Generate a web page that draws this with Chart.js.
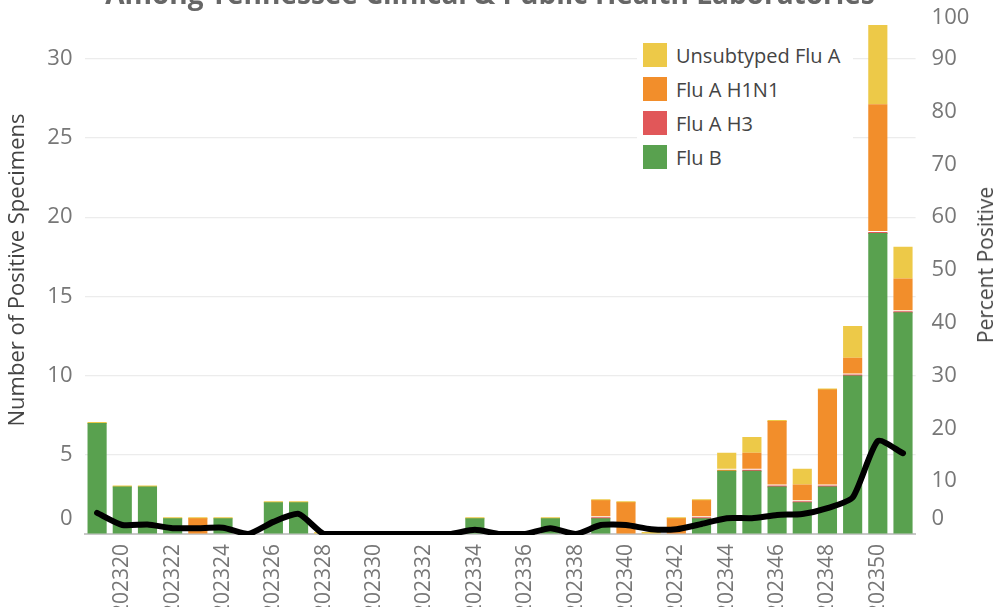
<!DOCTYPE html>
<html>
<head>
<meta charset="utf-8">
<title>Flu positives by week</title>
<script src="https://cdn.jsdelivr.net/npm/chart.js@4"></script>
<style>
  html, body { margin: 0; padding: 0; background: #fff; overflow: hidden; }
  #wrap { position: relative; width: 996px; height: 607px; overflow: hidden; font-family: 'Open Sans', sans-serif; }
  #fluChart { position: absolute; left: 0; top: 0; }
  #title { position: absolute; left: 490px; top: -21px; transform: translateX(-50%); white-space: nowrap;
           font-size: 28px; line-height: 28px; font-weight: 700; color: #666; }
  #rightTitle { position: absolute; left: 985px; top: 265px; transform: translate(-50%, -50%) rotate(-90deg);
                white-space: nowrap; font-size: 21px; line-height: 24px; color: #444; }
  #legend { position: absolute; left: 637px; top: 30px; width: 216px; padding: 8px 0 8px 6px; background: #fff; box-sizing: border-box; }
  #legend .item { display: flex; align-items: center; height: 34px; }
  #legend .sw { width: 24px; height: 24px; margin-right: 9px; flex: none; }
  #legend .lab { font-size: 20px; color: #444; white-space: nowrap; }
</style>
</head>
<body>
<div id="wrap">
  <canvas id="fluChart" width="996" height="607"></canvas>
  <div id="title">Among Tennessee Clinical &amp; Public Health Laboratories</div>
  <div id="rightTitle">Percent Positive</div>
  <div id="legend"></div>
</div>
<script>
// MMWR weeks shown on the x axis
var weeks = ['202319', '202320', '202321', '202322', '202323', '202324', '202325', '202326', '202327',
  '202328', '202329', '202330', '202331', '202332', '202333', '202334', '202335', '202336', '202337',
  '202338', '202339', '202340', '202341', '202342', '202343', '202344', '202345', '202346', '202347',
  '202348', '202349', '202350', '202351'];

// counts of positive specimens (null = not reported, 0 = reported as zero)
var fluB = [7, 3, 3, 1, null, 1, null, 2, 2, null, null, null, null, null, null, 1, null, null, 1,
  null, 1, null, null, null, 1, 4, 4, 3, 2, 3, 10, 19, 14];
var fluAH3 = [null, null, null, null, null, null, null, null, null, null, null, null, null, null, null, null, null, null, null,
  null, 0, null, null, null, 0, null, 0, 0, 0, 0, 0, 0, 0];
var fluAH1N1 = [null, null, null, null, 1, null, null, null, null, null, null, null, null, null, null, null, null, null, null,
  null, 1, 2, null, 1, 1, 0, 1, 4, 1, 6, 1, 8, 2];
var unsubtypedA = [0, 0, 0, 0, 0, 0, null, 0, 0, 0, null, null, null, null, null, 0, null, null, 0,
  null, 0, 0, 0, 0, 0, 1, 1, 0, 1, 0, 2, 5, 2];

// percent positive (right axis)
var percentPositive = [4, 1.7, 1.8, 1.1, 1.1, 1.2, 0, 2.3, 3.8, 0, 0, 0, 0, 0, 0, 0.8, 0, 0, 1.1,
  0, 1.7, 1.7, 0.9, 0.9, 1.9, 3.0, 3.0, 3.6, 3.8, 4.9, 6.9, 17.6, 15.3];

var countTicks = [0, 5, 10, 15, 20, 25, 30];
var percentTicks = [0, 10, 20, 30, 40, 50, 60, 70, 80, 90, 100];

var seriesNames = ['Flu B', 'Flu A H3', 'Flu A H1N1', 'Unsubtyped Flu A'];
var seriesColors = ['#59a14f', '#e15759', '#f28e2b', '#edc948'];
var seriesData = [fluB, fluAH3, fluAH1N1, unsubtypedA];

(function() {
  if (typeof Chart === 'undefined') return;

  Chart.defaults.font.family = "'Open Sans', sans-serif";
  Chart.defaults.color = '#777';

  // edge labels get nudged inside the plot, the way the original axis does it
  var nudgeEdgeLabels = {
    id: 'nudgeEdgeLabels',
    beforeDraw: function(chart) {
      ['y', 'y1'].forEach(function(id) {
        chart.scales[id].getLabelItems().forEach(function(it) {
          if (it._nudged) return;
          if (it.label === '0') it.options.translation[1] -= 15;
          if (it.label === '100') it.options.translation[1] += 12;
          it._nudged = true;
        });
      });
    }
  };

  var datasets = seriesData.map(function(d, i) {
    return {
      type: 'bar', label: seriesNames[i], data: d, yAxisID: 'y',
      backgroundColor: seriesColors[i], borderWidth: 0, minBarLength: 2,
      barPercentage: 0.76, categoryPercentage: 1, order: 1
    };
  });
  datasets.push({
    type: 'line', label: 'Percent Positive', data: percentPositive, yAxisID: 'y1',
    borderColor: '#000', borderWidth: 6, pointRadius: 0, tension: 0.2,
    borderCapStyle: 'round', borderJoinStyle: 'round', fill: false, order: 0,
    clip: { left: 8, right: 8, top: 8, bottom: 1 }
  });

  new Chart(document.getElementById('fluChart').getContext('2d'), {
    data: { labels: weeks, datasets: datasets },
    options: {
      responsive: false,
      animation: false,
      layout: { padding: { top: 6 } },
      plugins: { legend: { display: false }, tooltip: { enabled: false } },
      scales: {
        x: {
          stacked: true,
          grid: { display: false, drawTicks: false },
          border: { display: true, color: '#c8c8c8', width: 2, dash: [3, 3] },
          ticks: {
            autoSkip: false, maxRotation: 90, minRotation: 90, padding: 10,
            color: '#777', font: { size: 21 },
            callback: function(v, i) { return Number(weeks[i]) % 2 === 0 ? weeks[i] : ''; }
          },
          afterFit: function(s) { s.height = 73; s.paddingLeft = 0; s.paddingRight = 0; }
        },
        y: {
          stacked: true, position: 'left', min: 0, max: 33.33,
          afterBuildTicks: function(s) { s.ticks = countTicks.map(function(v) { return { value: v }; }); },
          grid: {
            drawTicks: false, lineWidth: 1.2,
            color: function(ctx) { return ctx.tick && ctx.tick.value === 0 ? 'rgba(0,0,0,0)' : '#ececec'; }
          },
          border: { display: false },
          ticks: { padding: 12, color: '#777', font: { size: 22 } },
          title: { display: true, text: 'Number of Positive Specimens', color: '#444', font: { size: 22 }, padding: { top: 5, bottom: 0 } },
          afterFit: function(s) { s.width = 84.5; s.paddingTop = 0; s.paddingBottom = 0; }
        },
        y1: {
          stacked: false, position: 'right', min: 0, max: 100,
          afterBuildTicks: function(s) { s.ticks = percentTicks.map(function(v) { return { value: v }; }); },
          grid: { display: false, drawTicks: false },
          border: { display: false },
          ticks: { padding: 16, color: '#777', font: { size: 22 } },
          afterFit: function(s) { s.width = 80.4; s.paddingTop = 0; s.paddingBottom = 0; }
        }
      }
    },
    plugins: [nudgeEdgeLabels]
  });

  // legend listed top-down in reverse stacking order
  var legend = document.getElementById('legend');
  for (var i = seriesNames.length - 1; i >= 0; i--) {
    var item = document.createElement('div');
    item.className = 'item';
    item.innerHTML = '<span class="sw" style="background:' + seriesColors[i] + '"></span><span class="lab">' + seriesNames[i] + '</span>';
    legend.appendChild(item);
  }
})();
</script>
</body>
</html>
